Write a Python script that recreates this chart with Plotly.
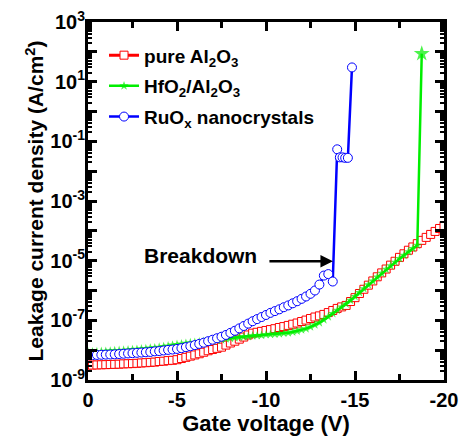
import plotly.graph_objects as go

# ---------------- data ----------------
volt_red = [0, -0.25, -0.5, -0.75, -1, -1.25, -1.5, -1.75, -2, -2.25, -2.5, -2.75, -3, -3.25, -3.5, -3.75,
            -4, -4.25, -4.5, -4.75, -5, -5.25, -5.5, -5.75, -6, -6.25, -6.5, -6.75, -7, -7.25, -7.5, -7.75,
            -8, -8.25, -8.5, -8.75, -9, -9.25, -9.5, -9.75, -10, -10.25, -10.5, -10.75, -11, -11.25, -11.5,
            -11.75, -12, -12.25, -12.5, -12.75, -13, -13.25, -13.5, -13.75, -14, -14.25, -14.5, -14.75, -15,
            -15.25, -15.5, -15.75, -16, -16.25, -16.5, -16.75, -17, -17.25, -17.5, -17.75, -18, -18.25, -18.5,
            -18.75, -19, -19.25, -19.5, -19.75, -20]
j_red = [3.16e-9, 3.16e-9, 3.2e-9, 3.24e-9, 3.27e-9, 3.31e-9, 3.35e-9, 3.39e-9, 3.47e-9, 3.51e-9, 3.55e-9,
         3.63e-9, 3.72e-9, 3.8e-9, 3.89e-9, 3.98e-9, 4.17e-9, 4.27e-9, 4.47e-9, 4.57e-9, 4.79e-9, 5.25e-9,
         5.75e-9, 6.31e-9, 6.92e-9, 7.59e-9, 8.51e-9, 9.55e-9, 1.05e-8, 1.15e-8, 1.26e-8, 1.48e-8, 1.74e-8,
         2.0e-8, 2.34e-8, 2.75e-8, 3.24e-8, 3.72e-8, 3.98e-8, 4.27e-8, 4.57e-8, 4.9e-8, 5.25e-8, 5.75e-8,
         6.17e-8, 6.76e-8, 7.41e-8, 8.13e-8, 9.12e-8, 1.02e-7, 1.15e-7, 1.29e-7, 1.41e-7, 1.58e-7, 1.82e-7,
         2.14e-7, 2.51e-7, 2.82e-7, 3.16e-7, 4.27e-7, 5.75e-7, 7.94e-7, 1.1e-6, 1.51e-6, 2.09e-6, 2.88e-6,
         3.89e-6, 5.25e-6, 7.08e-6, 9.55e-6, 1.29e-5, 1.7e-5, 2.24e-5, 2.88e-5, 3.72e-5, 4.79e-5, 6.03e-5,
         7.59e-5, 9.55e-5, 1.2e-4, 1.51e-4]

volt_green = [0, -0.25, -0.5, -0.75, -1, -1.25, -1.5, -1.75, -2, -2.25, -2.5, -2.75, -3, -3.25, -3.5, -3.75,
              -4, -4.25, -4.5, -4.75, -5, -5.25, -5.5, -5.75, -6, -6.25, -6.5, -6.75, -7, -7.25, -7.5, -7.75,
              -8, -8.25, -8.5, -8.75, -9, -9.25, -9.5, -9.75, -10, -10.25, -10.5, -10.75, -11, -11.25, -11.5,
              -11.75, -12, -12.25, -12.5, -12.75, -13, -13.25, -13.5, -13.75, -14, -14.25, -14.5, -14.75, -15,
              -15.25, -15.5, -15.75, -16, -16.25, -16.5, -16.75, -17, -17.25, -17.5, -17.75, -18, -18.25, -18.5,
              -18.75]
j_green = [8.71e-9, 8.81e-9, 8.91e-9, 9.02e-9, 9.12e-9, 9.33e-9, 9.55e-9, 9.77e-9, 1.0e-8, 1.02e-8, 1.05e-8,
           1.07e-8, 1.1e-8, 1.12e-8, 1.17e-8, 1.2e-8, 1.26e-8, 1.32e-8, 1.38e-8, 1.48e-8, 1.55e-8, 1.62e-8,
           1.7e-8, 1.78e-8, 1.82e-8, 1.91e-8, 1.95e-8, 2.0e-8, 2.04e-8, 2.14e-8, 2.24e-8, 2.4e-8, 2.51e-8,
           2.63e-8, 2.75e-8, 2.82e-8, 2.88e-8, 3.02e-8, 3.09e-8, 3.16e-8, 3.31e-8, 3.39e-8, 3.47e-8, 3.55e-8,
           3.72e-8, 3.8e-8, 4.07e-8, 4.37e-8, 4.79e-8, 5.25e-8, 6.03e-8, 7.08e-8, 8.32e-8, 1.05e-7, 1.32e-7,
           1.7e-7, 2.19e-7, 2.82e-7, 3.55e-7, 4.68e-7, 6.31e-7, 8.51e-7, 1.15e-6, 1.55e-6, 2.09e-6, 2.82e-6,
           3.8e-6, 5.13e-6, 6.76e-6, 8.91e-6, 1.17e-5, 1.51e-5, 2.0e-5, 2.57e-5, 3.31e-5, 87]

volt_blue = [0, -0.25, -0.5, -0.75, -1, -1.25, -1.5, -1.75, -2, -2.25, -2.5, -2.75, -3, -3.25, -3.5, -3.75,
             -4, -4.25, -4.5, -4.75, -5, -5.25, -5.5, -5.75, -6, -6.25, -6.5, -6.75, -7, -7.25, -7.5, -7.75,
             -8, -8.25, -8.5, -8.75, -9, -9.25, -9.5, -9.75, -10, -10.25, -10.5, -10.75, -11, -11.25, -11.5,
             -11.75, -12, -12.25, -12.5, -12.75, -13, -13.25, -13.5, -13.75, -14.0, -14.15, -14.3, -14.45,
             -14.6, -14.83]
j_blue = [6.76e-9, 6.84e-9, 6.92e-9, 7.0e-9, 7.08e-9, 7.16e-9, 7.24e-9, 7.41e-9, 7.59e-9, 7.76e-9, 7.94e-9,
          8.13e-9, 8.32e-9, 8.51e-9, 8.71e-9, 9.12e-9, 9.33e-9, 9.77e-9, 1.02e-8, 1.05e-8, 1.1e-8, 1.17e-8,
          1.26e-8, 1.35e-8, 1.48e-8, 1.62e-8, 1.78e-8, 2.0e-8, 2.24e-8, 2.51e-8, 2.82e-8, 3.24e-8, 3.8e-8,
          4.47e-8, 5.37e-8, 6.46e-8, 7.76e-8, 9.33e-8, 1.1e-7, 1.29e-7, 1.51e-7, 1.78e-7, 2.04e-7, 2.34e-7,
          2.75e-7, 3.16e-7, 3.72e-7, 4.37e-7, 5.25e-7, 6.3e-7, 7.76e-7, 1.0e-6, 1.58e-6, 3.16e-6, 3.55e-6,
          2.0e-6, 0.054, 0.029, 0.029, 0.028, 0.028, 30]

series_names = ["pure Al<sub>2</sub>O<sub>3</sub>",
                "HfO<sub>2</sub>/Al<sub>2</sub>O<sub>3</sub>",
                "RuO<sub>x</sub> nanocrystals"]

ytick_vals = [1e-9, 1e-8, 1e-7, 1e-6, 1e-5, 1e-4, 1e-3, 1e-2, 1e-1, 1, 10, 100, 1000]
ytick_text = ["10<sup>-9</sup>", "", "10<sup>-7</sup>", "", "10<sup>-5</sup>", "", "10<sup>-3</sup>", "",
              "10<sup>-1</sup>", "", "10<sup>1</sup>", "", "10<sup>3</sup>"]
xtick_vals = [0, -5, -10, -15, -20]
xtick_text = ["0", "-5", "-10", "-15", "-20"]
xminor_vals = [-2.5, -7.5, -12.5, -17.5]

# minor tick positions on the log axis: 2..9 x every decade
yminor_vals = [m * d for d in ytick_vals[:-1] for m in range(2, 10)]

# ---------------- figure ----------------
FONT = "Liberation Sans, Arial, sans-serif"
fig = go.Figure()

fig.add_trace(go.Scatter(
    x=volt_red, y=j_red, mode="lines+markers", name="<b>" + series_names[0] + "</b>",
    legendgroup="a",
    line=dict(color="#ff0000", width=3),
    marker=dict(symbol="square", size=8, color="white", line=dict(color="#ff0000", width=1))))

fig.add_trace(go.Scatter(
    x=volt_green, y=j_green, mode="lines+markers", name="<b>" + series_names[1] + "</b>",
    legendgroup="b",
    line=dict(color="#00ee00", width=2.5),
    marker=dict(symbol="star", size=[7] * (len(volt_green) - 1) + [12], color="#00ee00",
                line=dict(width=0))))

fig.add_trace(go.Scatter(
    x=volt_blue, y=j_blue, mode="lines+markers", name="<b>" + series_names[2] + "</b>",
    legendgroup="c",
    line=dict(color="#0000ff", width=2.5),
    marker=dict(symbol="circle", size=9, color="white", line=dict(color="#0000ff", width=1))))

fig.add_annotation(
    x=0.688, y=0.332, xref="paper", yref="paper",
    ax=-65, ay=0, axref="pixel", ayref="pixel",
    showarrow=True, arrowhead=2, arrowsize=1, arrowwidth=2.5, arrowcolor="black", text="")
fig.add_annotation(
    x=0.315, y=0.349, xref="paper", yref="paper", xanchor="center", yanchor="middle",
    text="<b>Breakdown</b>",
    showarrow=False, font=dict(family=FONT, size=21, color="black"))

axis_common = dict(showline=True, linecolor="black", linewidth=3, mirror="allticks",
                   ticks="inside", tickcolor="black", showgrid=False, zeroline=False,
                   automargin=False)

fig.update_xaxes(
    range=[0, -20], tickmode="array", tickvals=xtick_vals, ticktext=["<b>%s</b>" % t for t in xtick_text],
    ticklen=9, tickwidth=3,
    minor=dict(ticks="inside", tickmode="array", tickvals=xminor_vals, ticklen=6, tickwidth=3,
               tickcolor="black"),
    tickfont=dict(family=FONT, size=20, color="black"),
    title=dict(text="<b>Gate voltage (V)</b>", font=dict(family=FONT, size=22, color="black"), standoff=8),
    **axis_common)

fig.update_yaxes(
    type="log", range=[-9, 3], tickmode="array", tickvals=ytick_vals,
    ticktext=["<b>%s</b>" % t if t else "" for t in ytick_text],
    ticklen=9, tickwidth=3, ticklabelstandoff=-4,
    minor=dict(ticks="inside", tickmode="array", tickvals=yminor_vals, ticklen=4, tickwidth=2,
               tickcolor="black"),
    tickfont=dict(family=FONT, size=20, color="black"),
    title=dict(text="<b>Leakage current density (A/cm<sup>2</sup>)</b>",
               font=dict(family=FONT, size=21, color="black"), standoff=1),
    **axis_common)

fig.update_layout(
    width=460, height=436,
    margin=dict(l=88, r=16, t=22, b=56),
    paper_bgcolor="white", plot_bgcolor="white",
    showlegend=True,
    legend=dict(x=0.045, y=0.96, xanchor="left", yanchor="top", bgcolor="rgba(0,0,0,0)",
                font=dict(family=FONT, size=19, color="black"), tracegroupgap=3),
)

fig.write_html("out.html", config={"displayModeBar": False},
               post_script="document.body.style.margin='0px';")
